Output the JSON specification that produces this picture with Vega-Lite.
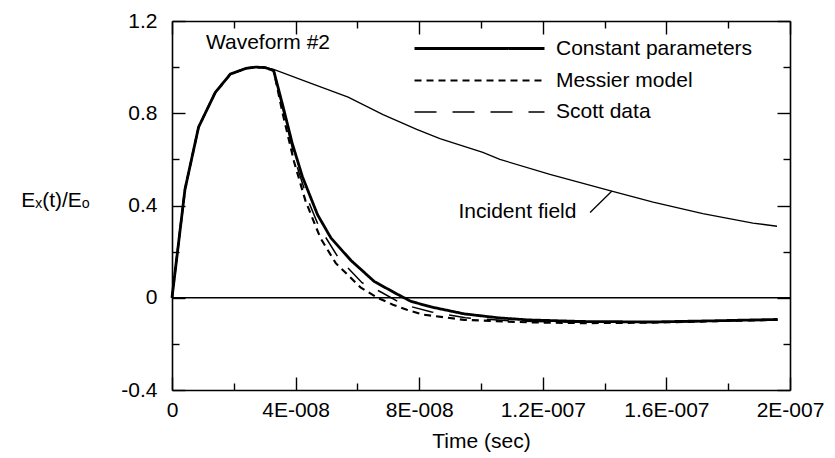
{
  "$schema": "https://vega.github.io/schema/vega-lite/v6.json",
  "width": 618,
  "height": 369,
  "autosize": {"type": "none"},
  "padding": {"left": 172, "top": 21, "right": 45, "bottom": 68},
  "background": "white",
  "config": {
    "font": "Liberation Sans",
    "view": {"stroke": null},
    "axis": {
      "domainColor": "black",
      "domainWidth": 1.6,
      "tickColor": "black",
      "tickWidth": 1.4,
      "labelColor": "black",
      "labelFont": "Liberation Sans",
      "labelFontSize": 21,
      "titleFont": "Liberation Sans",
      "titleFontSize": 21,
      "titleFontWeight": "normal",
      "titleColor": "black",
      "grid": false,
      "labelFlush": false,
      "labelOverlap": false
    }
  },
  "datasets": {
    "curves": [
      {"series": "Constant parameters", "t": 0, "v": 0},
      {"series": "Constant parameters", "t": 0.42e-8, "v": 0.47},
      {"series": "Constant parameters", "t": 0.86e-8, "v": 0.74},
      {"series": "Constant parameters", "t": 1.40e-8, "v": 0.89},
      {"series": "Constant parameters", "t": 1.89e-8, "v": 0.97},
      {"series": "Constant parameters", "t": 2.40e-8, "v": 0.995},
      {"series": "Constant parameters", "t": 2.70e-8, "v": 1.0},
      {"series": "Constant parameters", "t": 3.02e-8, "v": 0.998},
      {"series": "Constant parameters", "t": 3.29e-8, "v": 0.985},
      {"series": "Constant parameters", "t": 3.62e-8, "v": 0.815},
      {"series": "Constant parameters", "t": 3.89e-8, "v": 0.67},
      {"series": "Constant parameters", "t": 4.22e-8, "v": 0.525},
      {"series": "Constant parameters", "t": 4.71e-8, "v": 0.36},
      {"series": "Constant parameters", "t": 5.14e-8, "v": 0.26},
      {"series": "Constant parameters", "t": 5.79e-8, "v": 0.162},
      {"series": "Constant parameters", "t": 6.55e-8, "v": 0.07},
      {"series": "Constant parameters", "t": 7.31e-8, "v": 0.014},
      {"series": "Constant parameters", "t": 7.74e-8, "v": -0.016},
      {"series": "Constant parameters", "t": 8.39e-8, "v": -0.04},
      {"series": "Constant parameters", "t": 9.46e-8, "v": -0.07},
      {"series": "Constant parameters", "t": 10.56e-8, "v": -0.087},
      {"series": "Constant parameters", "t": 11.5e-8, "v": -0.096},
      {"series": "Constant parameters", "t": 13.3e-8, "v": -0.103},
      {"series": "Constant parameters", "t": 15.5e-8, "v": -0.105},
      {"series": "Constant parameters", "t": 17.5e-8, "v": -0.1},
      {"series": "Constant parameters", "t": 19.6e-8, "v": -0.094},
      {"series": "Messier model", "t": 0, "v": 0},
      {"series": "Messier model", "t": 0.42e-8, "v": 0.47},
      {"series": "Messier model", "t": 0.86e-8, "v": 0.74},
      {"series": "Messier model", "t": 1.40e-8, "v": 0.89},
      {"series": "Messier model", "t": 1.89e-8, "v": 0.97},
      {"series": "Messier model", "t": 2.40e-8, "v": 0.995},
      {"series": "Messier model", "t": 2.70e-8, "v": 1.0},
      {"series": "Messier model", "t": 3.02e-8, "v": 0.998},
      {"series": "Messier model", "t": 3.29e-8, "v": 0.985},
      {"series": "Messier model", "t": 3.58e-8, "v": 0.80},
      {"series": "Messier model", "t": 3.95e-8, "v": 0.59},
      {"series": "Messier model", "t": 4.32e-8, "v": 0.42},
      {"series": "Messier model", "t": 4.80e-8, "v": 0.26},
      {"series": "Messier model", "t": 5.30e-8, "v": 0.15},
      {"series": "Messier model", "t": 6.10e-8, "v": 0.045},
      {"series": "Messier model", "t": 6.65e-8, "v": 0.0},
      {"series": "Messier model", "t": 7.15e-8, "v": -0.03},
      {"series": "Messier model", "t": 7.60e-8, "v": -0.052},
      {"series": "Messier model", "t": 8.13e-8, "v": -0.073},
      {"series": "Messier model", "t": 9.46e-8, "v": -0.096},
      {"series": "Messier model", "t": 11.6e-8, "v": -0.107},
      {"series": "Messier model", "t": 13.3e-8, "v": -0.11},
      {"series": "Messier model", "t": 15.5e-8, "v": -0.108},
      {"series": "Messier model", "t": 17.5e-8, "v": -0.102},
      {"series": "Messier model", "t": 19.6e-8, "v": -0.096},
      {"series": "Scott data", "t": 0, "v": 0},
      {"series": "Scott data", "t": 0.42e-8, "v": 0.47},
      {"series": "Scott data", "t": 0.86e-8, "v": 0.74},
      {"series": "Scott data", "t": 1.40e-8, "v": 0.89},
      {"series": "Scott data", "t": 1.89e-8, "v": 0.97},
      {"series": "Scott data", "t": 2.40e-8, "v": 0.995},
      {"series": "Scott data", "t": 2.70e-8, "v": 1.005},
      {"series": "Scott data", "t": 3.02e-8, "v": 0.998},
      {"series": "Scott data", "t": 3.29e-8, "v": 0.985},
      {"series": "Scott data", "t": 3.60e-8, "v": 0.81},
      {"series": "Scott data", "t": 3.82e-8, "v": 0.69},
      {"series": "Scott data", "t": 4.02e-8, "v": 0.58},
      {"series": "Scott data", "t": 4.38e-8, "v": 0.43},
      {"series": "Scott data", "t": 4.75e-8, "v": 0.31},
      {"series": "Scott data", "t": 5.40e-8, "v": 0.17},
      {"series": "Scott data", "t": 6.15e-8, "v": 0.065},
      {"series": "Scott data", "t": 6.76e-8, "v": 0.025},
      {"series": "Scott data", "t": 7.50e-8, "v": -0.03},
      {"series": "Scott data", "t": 8.40e-8, "v": -0.062},
      {"series": "Scott data", "t": 9.50e-8, "v": -0.087},
      {"series": "Scott data", "t": 11.0e-8, "v": -0.101},
      {"series": "Scott data", "t": 13.0e-8, "v": -0.106},
      {"series": "Scott data", "t": 15.5e-8, "v": -0.107},
      {"series": "Scott data", "t": 17.5e-8, "v": -0.102},
      {"series": "Scott data", "t": 19.6e-8, "v": -0.096}
    ],
    "incident": [
      {"t": 0, "v": 0},
      {"t": 0.42e-8, "v": 0.47},
      {"t": 0.86e-8, "v": 0.74},
      {"t": 1.40e-8, "v": 0.89},
      {"t": 1.89e-8, "v": 0.97},
      {"t": 2.40e-8, "v": 0.995},
      {"t": 2.70e-8, "v": 1.0},
      {"t": 3.02e-8, "v": 0.998},
      {"t": 3.29e-8, "v": 0.99},
      {"t": 4.50e-8, "v": 0.93},
      {"t": 5.70e-8, "v": 0.87},
      {"t": 6.83e-8, "v": 0.794},
      {"t": 7.92e-8, "v": 0.73},
      {"t": 8.67e-8, "v": 0.69},
      {"t": 10.06e-8, "v": 0.63},
      {"t": 10.61e-8, "v": 0.6},
      {"t": 12.23e-8, "v": 0.535},
      {"t": 14.17e-8, "v": 0.465},
      {"t": 15.57e-8, "v": 0.415},
      {"t": 17.18e-8, "v": 0.365},
      {"t": 18.80e-8, "v": 0.324},
      {"t": 19.58e-8, "v": 0.31}
    ],
    "notes": [
      {"t": 3.107e-8, "v": 1.105, "label": "Waveform #2"},
      {"t": 1.118e-7, "v": 0.37, "label": "Incident field"}
    ],
    "leader": [
      {"t": 1.353e-7, "v": 0.37, "t2": 1.423e-7, "v2": 0.462}
    ],
    "baseline": [
      {"level": 0}
    ]
  },
  "resolve": {"axis": {"x": "independent", "y": "independent"}},
  "layer": [
    {
      "data": {"name": "baseline"},
      "mark": {"type": "rule", "color": "black", "strokeWidth": 1.3},
      "encoding": {
        "y": {
          "field": "level", "type": "quantitative",
          "axis": {
            "orient": "right", "title": null, "labels": false,
            "values": [-0.4, -0.2, 0, 0.2, 0.4, 0.6, 0.8, 1, 1.2],
            "tickSize": {"condition": {"test": "round(datum.value * 10) % 4 === 0", "value": -13}, "value": -7}
          }
        }
      }
    },
    {
      "data": {"name": "curves"},
      "mark": {"type": "line", "color": "black", "strokeCap": "butt"},
      "encoding": {
        "x": {
          "field": "t", "type": "quantitative",
          "scale": {"domain": [0, 2e-7], "nice": false, "zero": false},
          "axis": {
            "orient": "bottom",
            "title": "Time (sec)",
            "values": [0, 2e-8, 4e-8, 6e-8, 8e-8, 1e-7, 1.2e-7, 1.4e-7, 1.6e-7, 1.8e-7, 2e-7],
            "labelExpr": "datum.value < 1e-12 ? '0' : (round(datum.value / 2e-8) % 2 === 0 ? format(datum.value / pow(10, floor(log(datum.value) / LN10 + 1e-9)), '.1~f') + 'E-00' + toString(-floor(log(datum.value) / LN10 + 1e-9)) : '')",
            "tickSize": {"condition": {"test": "round(datum.value / 2e-8) % 2 === 0", "value": -13}, "value": -7},
            "labelPadding": 22,
            "titleY": 51,
            "titleBaseline": "middle"
          }
        },
        "y": {
          "field": "v", "type": "quantitative",
          "scale": {"domain": [-0.4, 1.2], "nice": false, "zero": false},
          "axis": {
            "orient": "left",
            "title": "Eₓ(t)/Eₒ",
            "values": [-0.4, -0.2, 0, 0.2, 0.4, 0.6, 0.8, 1, 1.2],
            "labelExpr": "round(datum.value * 10) % 4 === 0 ? toString(round(datum.value * 10) / 10) : ''",
            "tickSize": {"condition": {"test": "round(datum.value * 10) % 4 === 0", "value": -13}, "value": -7},
            "labelPadding": 28,
            "titleAngle": 0,
            "titleX": -117,
            "titleY": 179,
            "titleAlign": "center",
            "titleBaseline": "middle"
          }
        },
        "strokeDash": {
          "field": "series", "type": "nominal",
          "scale": {
            "domain": ["Constant parameters", "Messier model", "Scott data"],
            "range": [[1, 0], [7, 5], [22, 16]]
          },
          "legend": {
            "title": null,
            "orient": "none",
            "legendX": 351,
            "legendY": 16,
            "labelFontSize": 21,
            "labelFont": "Liberation Sans",
            "labelColor": "black",
            "labelLimit": 400,
            "labelOffset": 10,
            "rowPadding": 10,
            "symbolType": "M-12,0H1",
            "symbolSize": 400,
            "symbolStrokeColor": "black",
            "symbolFillColor": "transparent",
            "padding": 0
          }
        },
        "strokeWidth": {
          "field": "series", "type": "nominal",
          "scale": {
            "domain": ["Constant parameters", "Messier model", "Scott data"],
            "range": [2.8, 1.5, 1.5]
          },
          "legend": {
            "title": null,
            "orient": "none",
            "legendX": 351,
            "legendY": 16,
            "labelFontSize": 21,
            "labelFont": "Liberation Sans",
            "labelColor": "black",
            "labelLimit": 400,
            "labelOffset": 10,
            "rowPadding": 10,
            "symbolType": "M-12,0H1",
            "symbolSize": 400,
            "symbolStrokeColor": "black",
            "symbolFillColor": "transparent",
            "padding": 0
          }
        },
        "order": {"field": "t", "type": "quantitative"}
      }
    },
    {
      "data": {"name": "incident"},
      "mark": {"type": "line", "color": "black", "strokeWidth": 1.3},
      "encoding": {
        "x": {
          "field": "t", "type": "quantitative",
          "axis": {
            "orient": "top", "title": null, "labels": false,
            "values": [0, 2e-8, 4e-8, 6e-8, 8e-8, 1e-7, 1.2e-7, 1.4e-7, 1.6e-7, 1.8e-7, 2e-7],
            "tickSize": {"condition": {"test": "round(datum.value / 2e-8) % 2 === 0", "value": -13}, "value": -7}
          }
        },
        "y": {"field": "v", "type": "quantitative", "axis": null}
      }
    },
    {
      "data": {"name": "notes"},
      "mark": {"type": "text", "font": "Liberation Sans", "fontSize": 21, "color": "black", "align": "center", "baseline": "middle"},
      "encoding": {
        "x": {"field": "t", "type": "quantitative", "axis": null},
        "y": {"field": "v", "type": "quantitative", "axis": null},
        "text": {"field": "label"}
      }
    },
    {
      "data": {"name": "leader"},
      "mark": {"type": "rule", "color": "black", "strokeWidth": 1.3},
      "encoding": {
        "x": {"field": "t", "type": "quantitative", "axis": null},
        "y": {"field": "v", "type": "quantitative", "axis": null},
        "x2": {"field": "t2"},
        "y2": {"field": "v2"}
      }
    }
  ]
}
